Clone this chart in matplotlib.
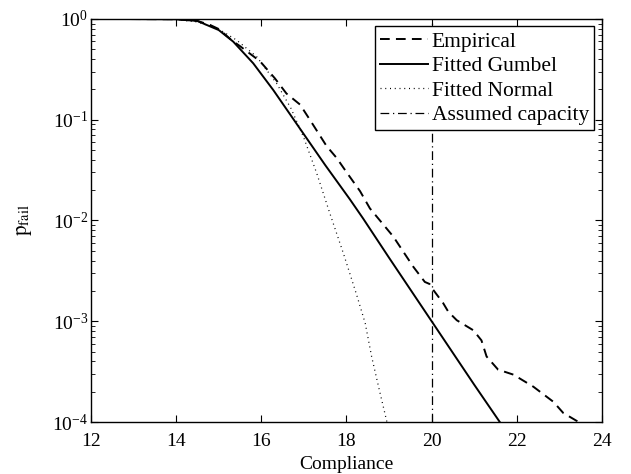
import numpy as np
import matplotlib
matplotlib.use("Agg")
import matplotlib.pyplot as plt

# values (compliance, log10 of p_fail)
emp_x = [12.56, 14.0, 14.5, 14.8, 15.0, 15.33, 15.5, 15.97, 16.32, 16.59, 16.91,
         17.14, 17.53, 17.77, 18.0, 18.32, 18.55, 19.1, 19.57, 19.84, 19.95,
         20.04, 20.27, 20.39, 20.59, 20.98, 21.17, 21.29, 21.56, 21.92, 22.39,
         22.86, 23.09, 23.41, 23.5]
emp_log = [0.0, -0.003, -0.02, -0.06, -0.1, -0.22, -0.27, -0.42, -0.59, -0.74, -0.85,
           -1.0, -1.26, -1.38, -1.52, -1.71, -1.88, -2.16, -2.46, -2.61, -2.63,
           -2.69, -2.82, -2.905, -2.99, -3.09, -3.19, -3.35, -3.48, -3.53, -3.65,
           -3.80, -3.91, -3.99, -4.05]

gum_x = [12.56, 14.0, 14.5, 14.72, 15.0, 15.34, 15.81, 16.28, 16.91, 17.5,
         18.08, 18.39, 19.0, 20.0, 21.0, 21.6]
gum_log = [0.0, -0.003, -0.02, -0.06, -0.11, -0.225, -0.44, -0.705, -1.09, -1.45,
           -1.79, -1.98, -2.37, -3.0, -3.63, -4.0]

nor_x = [12.56, 14.0, 14.5, 15.0, 15.42, 15.89, 16.36, 16.7, 16.99, 17.3, 17.61,
         17.93, 18.24, 18.44, 18.59, 18.77, 18.95]
nor_log = [0.0, -0.005, -0.03, -0.1, -0.21, -0.374, -0.64, -0.89, -1.17, -1.53,
           -1.93, -2.33, -2.74, -3.02, -3.35, -3.68, -4.0]

capacity = 20

plt.rcParams['font.family'] = ['Liberation Serif', 'DejaVu Serif']
plt.rcParams['mathtext.fontset'] = 'stix'
plt.rcParams['font.size'] = 14

fig = plt.figure(figsize=(6.31, 4.74), dpi=100)
ax = fig.add_axes([0.1442, 0.1097, 0.8098, 0.8503])

ax.semilogy(emp_x, 10 ** np.array(emp_log), color='k', lw=1.4,
            dashes=(5, 3.2), label='Empirical')
ax.semilogy(gum_x, 10 ** np.array(gum_log), color='k', lw=1.4,
            label='Fitted Gumbel')
ax.semilogy(nor_x, 10 ** np.array(nor_log), color='k', lw=0.9,
            dashes=(0.8, 3), label='Fitted Normal')
ax.axvline(capacity, color='k', lw=0.9, dashes=(7, 3, 1, 3),
           label='Assumed capacity')

ax.set_xlim(12, 24)
ax.set_ylim(1e-4, 1)
ax.set_xticks([12, 14, 16, 18, 20, 22, 24])
ax.set_xlabel('Compliance', labelpad=4)
ax.set_ylabel(r'$\mathrm{p}_{\mathrm{fail}}$', fontsize=15, labelpad=13)

ax.tick_params(which='both', direction='in', top=True, right=True)
ax.tick_params(which='major', length=5, width=0.8, labelsize=14)
ax.tick_params(axis='x', which='major', pad=8)
ax.tick_params(axis='y', which='major', pad=2)
ax.tick_params(which='minor', length=3, width=0.6)
for s in ax.spines.values():
    s.set_linewidth(1.0)

leg = ax.legend(loc='upper right', fancybox=False, framealpha=1,
                edgecolor='k', fontsize=15.5, handlelength=2.2,
                handletextpad=0.2, labelspacing=0.2, borderpad=0.25,
                borderaxespad=0.35)
leg.get_frame().set_linewidth(1.0)

fig.savefig('out.png', dpi=100)
